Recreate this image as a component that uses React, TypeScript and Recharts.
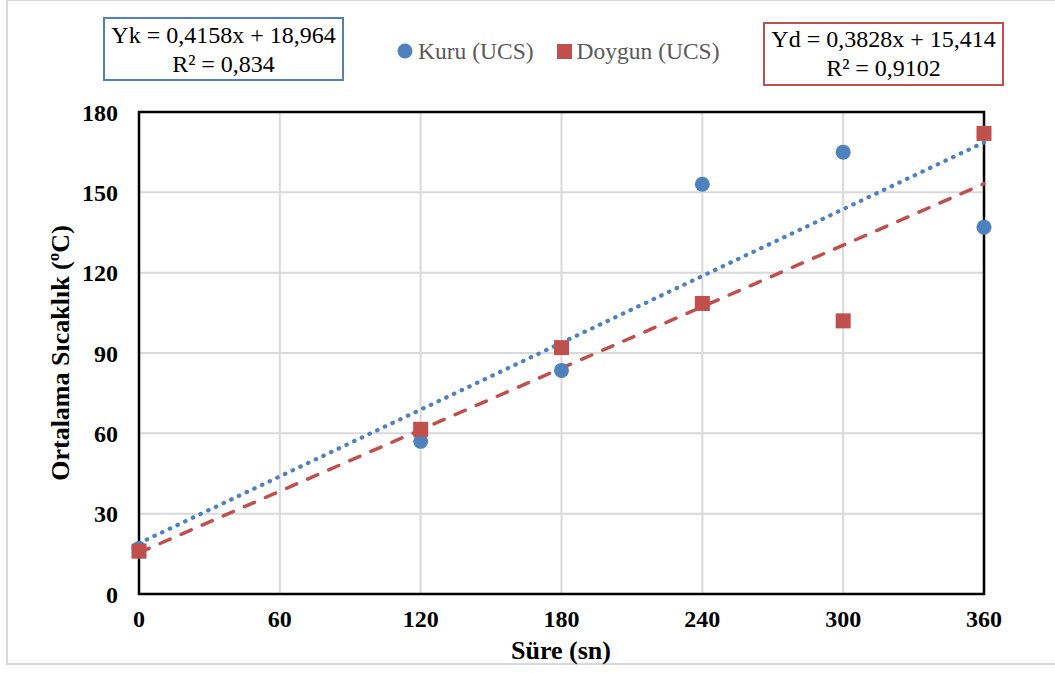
import React from "react";
import {
  ComposedChart,
  Scatter,
  Line,
  XAxis,
  YAxis,
  CartesianGrid,
  ReferenceArea,
  Label,
} from "recharts";

const xTicks = [0, 60, 120, 180, 240, 300, 360];
const yTicks = [0, 30, 60, 90, 120, 150, 180];

const kuruData = [
  { x: 0, y: 17 },
  { x: 120, y: 57 },
  { x: 180, y: 83.5 },
  { x: 240, y: 153 },
  { x: 300, y: 165 },
  { x: 360, y: 137 },
];

const doygunData = [
  { x: 0, y: 16 },
  { x: 120, y: 61.5 },
  { x: 180, y: 92 },
  { x: 240, y: 108.5 },
  { x: 300, y: 102 },
  { x: 360, y: 172 },
];

// trend lines from the displayed equations (Yk = 0,4158x + 18,964 ; Yd = 0,3828x + 15,414)
const kuruTrend = [
  { x: 0, y: 18.964 },
  { x: 360, y: 168.652 },
];
const doygunTrend = [
  { x: 0, y: 15.414 },
  { x: 360, y: 153.222 },
];

const eqKuru = ["Yk = 0,4158x + 18,964", "R² = 0,834"];
const eqDoygun = ["Yd = 0,3828x + 15,414", "R² = 0,9102"];
const legendNames = ["Kuru (UCS)", "Doygun (UCS)"];

const BLUE = "#4F81BD";
const RED = "#C0504D";
const FONT = "'Liberation Serif', 'Times New Roman', serif";

const Circle = (props: any) => {
  const { cx, cy } = props;
  if (cx == null || cy == null) return null;
  return <circle cx={cx} cy={cy} r={7.5} fill={BLUE} />;
};

const Square = (props: any) => {
  const { cx, cy } = props;
  if (cx == null || cy == null) return null;
  return <rect x={cx - 7.5} y={cy - 7.5} width={15} height={15} fill={RED} />;
};

const tickStyle = {
  fontFamily: FONT,
  fontWeight: 700,
  fontSize: 24,
  fill: "#000",
};

const boxText: React.CSSProperties = {
  fontFamily: FONT,
  fontSize: 24,
  lineHeight: "29px",
  color: "#000",
  textAlign: "center",
  whiteSpace: "nowrap",
};

export default function App() {
  return (
    <div
      style={{
        position: "absolute",
        left: 0,
        top: 0,
        width: 1055,
        height: 673,
        overflow: "hidden",
        background: "#fff",
      }}
    >
      <div
        style={{
          position: "absolute",
          left: 6,
          top: -1,
          width: 1100,
          height: 666,
          border: "2px solid #d9d9d9",
          boxSizing: "border-box",
        }}
      />
      <div style={{ position: "absolute", left: 0, top: 0 }}>
        <ComposedChart
          width={1055}
          height={673}
          margin={{ top: 112, right: 71, bottom: 0, left: 0 }}
        >
          <CartesianGrid stroke="#d9d9d9" strokeWidth={2} />
          <XAxis
            dataKey="x"
            type="number"
            domain={[0, 360]}
            ticks={xTicks}
            interval={0}
            height={79}
            tickLine={false}
            axisLine={false}
            tickSize={6}
            tickMargin={10}
            tick={tickStyle}
          >
            <Label
              content={() => (
                <text
                  x={561}
                  y={659}
                  textAnchor="middle"
                  fontFamily={FONT}
                  fontWeight={700}
                  fontSize={26}
                  fill="#000"
                >
                  Süre (sn)
                </text>
              )}
            />
          </XAxis>
          <YAxis
            dataKey="y"
            type="number"
            domain={[0, 180]}
            ticks={yTicks}
            interval={0}
            width={139}
            tickLine={false}
            axisLine={false}
            tickSize={6}
            tickMargin={15}
            tick={tickStyle}
          >
            <Label
              content={() => (
                <text
                  x={60}
                  y={353}
                  transform="rotate(-90 60 353)"
                  textAnchor="middle"
                  dominantBaseline="central"
                  fontFamily={FONT}
                  fontWeight={700}
                  fontSize={26}
                  fill="#000"
                >
                  Ortalama Sıcaklık (ºC)
                </text>
              )}
            />
          </YAxis>
          <ReferenceArea
            x1={0}
            x2={360}
            y1={0}
            y2={180}
            stroke="#000"
            strokeWidth={2.5}
            fill="none"
            fillOpacity={0}
          />
          <Scatter
            name={legendNames[0]}
            data={kuruData}
            shape={Circle}
            isAnimationActive={false}
          />
          <Scatter
            name={legendNames[1]}
            data={doygunData}
            shape={Square}
            isAnimationActive={false}
          />
          <Line
            data={kuruTrend}
            dataKey="y"
            stroke={BLUE}
            strokeWidth={4.2}
            strokeDasharray="0.5 8"
            strokeLinecap="round"
            dot={false}
            activeDot={false}
            legendType="none"
            isAnimationActive={false}
          />
          <Line
            data={doygunTrend}
            dataKey="y"
            stroke={RED}
            strokeWidth={3.5}
            strokeDasharray="11 12"
            strokeLinecap="round"
            dot={false}
            activeDot={false}
            legendType="none"
            isAnimationActive={false}
          />
        </ComposedChart>
      </div>

      {/* legend */}
      <div
        style={{
          position: "absolute",
          left: 397,
          top: 36,
          height: 30,
          display: "flex",
          alignItems: "center",
          fontFamily: FONT,
          fontSize: 23.5,
          color: "#595959",
          whiteSpace: "nowrap",
        }}
      >
        <svg width={16} height={16} style={{ marginRight: 5 }}>
          <circle cx={8} cy={8} r={7.5} fill={BLUE} />
        </svg>
        <span>{legendNames[0]}</span>
        <svg width={15} height={15} style={{ marginLeft: 23, marginRight: 5 }}>
          <rect x={0} y={0} width={15} height={15} fill={RED} />
        </svg>
        <span>{legendNames[1]}</span>
      </div>

      {/* equation boxes */}
      <div
        style={{
          ...boxText,
          position: "absolute",
          left: 103,
          top: 17,
          width: 241,
          height: 64,
          boxSizing: "border-box",
          border: `2px solid ${BLUE}`,
          paddingTop: 2,
        }}
      >
        <div>{eqKuru[0]}</div>
        <div>{eqKuru[1]}</div>
      </div>
      <div
        style={{
          ...boxText,
          position: "absolute",
          left: 763,
          top: 22,
          width: 241,
          height: 64,
          boxSizing: "border-box",
          border: `2px solid ${RED}`,
          paddingTop: 1,
        }}
      >
        <div>{eqDoygun[0]}</div>
        <div>{eqDoygun[1]}</div>
      </div>
    </div>
  );
}
